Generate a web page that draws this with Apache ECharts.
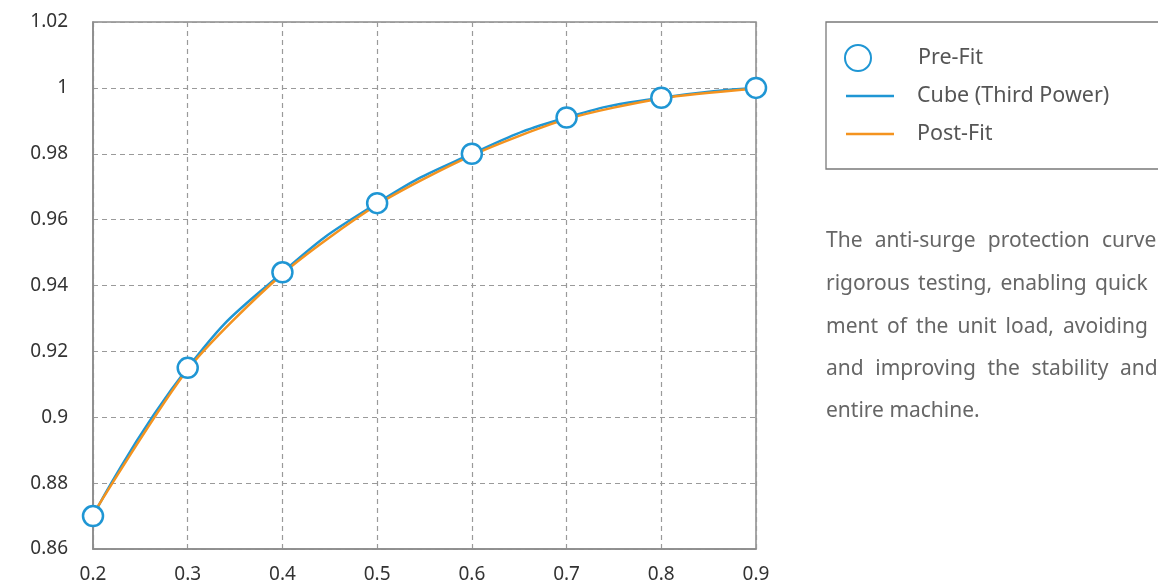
<!DOCTYPE html>
<html>
<head>
<meta charset="utf-8">
<title>Anti-surge protection curve</title>
<script src="https://cdn.jsdelivr.net/npm/echarts@6/dist/echarts.min.js"></script>
<style>
  html, body { margin: 0; padding: 0; background: #ffffff; }
  #chart { width: 1158px; height: 584px; }
</style>
</head>
<body>
<div id="chart"></div>
<script>
// Load ratio (x) and measured efficiency values
const loadRatio = [0.2, 0.3, 0.4, 0.5, 0.6, 0.7, 0.8, 0.9];
const preFit    = [0.870, 0.915, 0.944, 0.965, 0.980, 0.991, 0.997, 1.000];
const cubeFit   = [0.870, 0.915, 0.944, 0.965, 0.980, 0.991, 0.997, 1.000];
const postFit   = [0.8705, 0.9145, 0.9435, 0.9645, 0.9795, 0.9905, 0.9968, 0.9998];

const seriesNames = ['Pre-Fit', 'Cube (Third Power)', 'Post-Fit'];

// Description paragraph, one array of words per justified line
const paragraphLines = [
  ['The', 'anti-surge', 'protection', 'curve'],
  ['rigorous', 'testing,', 'enabling', 'quick'],
  ['ment', 'of', 'the', 'unit', 'load,', 'avoiding'],
  ['and', 'improving', 'the', 'stability', 'and'],
  ['entire', 'machine.']
];

const BLUE = '#1f96d4';
const ORANGE = '#f4931f';
const FONT = '"Noto Sans", "Open Sans", sans-serif';
const PARA_FONT = '21px ' + FONT;

function pairs(xs, ys) {
  return xs.map((x, i) => [x, ys[i]]);
}

// Paragraph layout: text starts at x=826; in justified lines the last
// visible word starts at the given x and the words between are spread evenly.
const paraLeft = 826;
const lastWordX = [1102, 1095, 1063, 1120, null];
const lineY = [241, 284, 327, 369, 411];

const measureCtx = document.createElement('canvas').getContext('2d');
measureCtx.font = PARA_FONT;

const paragraphGraphics = [];
paragraphLines.forEach((words, li) => {
  if (lastWordX[li] === null) {
    paragraphGraphics.push({
      type: 'text', x: paraLeft, y: lineY[li],
      style: { text: words.join(' '), font: PARA_FONT, fill: '#666666', verticalAlign: 'middle' }
    });
    return;
  }
  const widths = words.map(w => measureCtx.measureText(w).width);
  const used = widths.slice(0, -1).reduce((a, b) => a + b, 0);
  const gap = (lastWordX[li] - paraLeft - used) / (words.length - 1);
  let x = paraLeft;
  words.forEach((w, wi) => {
    paragraphGraphics.push({
      type: 'text', x: x, y: lineY[li],
      style: { text: w, font: PARA_FONT, fill: '#666666', verticalAlign: 'middle' }
    });
    x += widths[wi] + gap;
  });
});

const chart = echarts.init(document.getElementById('chart'), null, { renderer: 'canvas' });

const legendText = { fontFamily: FONT, fontSize: 21.5, color: '#555555', lineHeight: 26 };

chart.setOption({
  backgroundColor: '#ffffff',
  animation: false,
  grid: {
    left: 93, right: 402, top: 22, bottom: 35,
    show: true, borderColor: '#8a8a8a', borderWidth: 1.5, backgroundColor: 'transparent'
  },
  xAxis: {
    type: 'value', min: 0.2, max: 0.9, interval: 0.1,
    axisLine: { show: true, lineStyle: { color: '#8a8a8a', width: 1.5 } },
    axisTick: { show: false },
    axisLabel: { color: '#333333', fontSize: 19, fontFamily: FONT, margin: 16 },
    splitLine: { show: true, lineStyle: { color: '#9a9a9a', width: 1.2, type: [5, 4] } }
  },
  yAxis: {
    type: 'value', min: 0.86, max: 1.02, interval: 0.02,
    axisLine: { show: true, lineStyle: { color: '#8a8a8a', width: 1.5 } },
    axisTick: { show: false },
    axisLabel: { color: '#333333', fontSize: 19, fontFamily: FONT, margin: 25 },
    splitLine: { show: true, lineStyle: { color: '#9a9a9a', width: 1.2, type: [5, 4] } }
  },
  legend: [
    {
      data: [{ name: seriesNames[0], icon: 'circle' }],
      left: 844, top: 44, padding: 0,
      itemWidth: 26, itemHeight: 26,
      textStyle: Object.assign({ padding: [0, 0, 0, 42] }, legendText),
      selectedMode: false
    },
    {
      data: [{ name: seriesNames[1], icon: 'rect' }],
      left: 846, top: 83, padding: 0,
      itemWidth: 48, itemHeight: 2.5,
      textStyle: Object.assign({ padding: [0, 0, 0, 18] }, legendText),
      selectedMode: false
    },
    {
      data: [{ name: seriesNames[2], icon: 'rect' }],
      left: 846, top: 121, padding: 0,
      itemWidth: 48, itemHeight: 2.5,
      textStyle: Object.assign({ padding: [0, 0, 0, 18] }, legendText),
      selectedMode: false
    }
  ],
  graphic: [
    {
      type: 'rect', z: -1,
      shape: { x: 826, y: 22, width: 400, height: 147 },
      style: { fill: 'none', stroke: '#7a7a7a', lineWidth: 1.3 }
    }
  ].concat(paragraphGraphics),
  series: [
    {
      name: seriesNames[1], type: 'line', data: pairs(loadRatio, cubeFit),
      smooth: 0.5, symbol: 'none', z: 2,
      lineStyle: { color: BLUE, width: 2.5 }, itemStyle: { color: BLUE }
    },
    {
      name: seriesNames[2], type: 'line', data: pairs(loadRatio, postFit),
      smooth: 0.25, symbol: 'none', z: 3,
      lineStyle: { color: ORANGE, width: 2.5 }, itemStyle: { color: ORANGE }
    },
    {
      name: seriesNames[0], type: 'scatter', data: pairs(loadRatio, preFit),
      symbol: 'circle', symbolSize: 20, z: 5,
      itemStyle: { color: '#ffffff', borderColor: BLUE, borderWidth: 2.5, opacity: 1 }
    }
  ]
});
</script>
</body>
</html>
